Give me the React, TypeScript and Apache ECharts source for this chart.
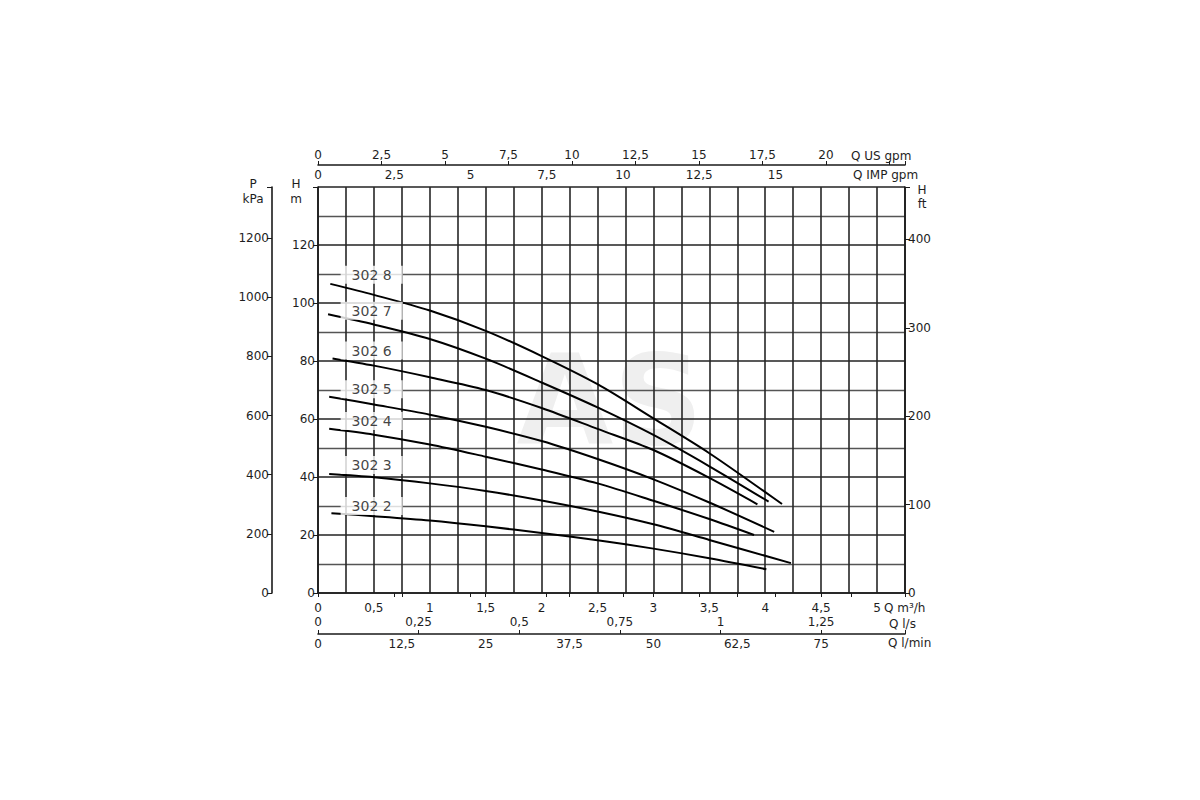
import React, { useEffect, useRef } from "react";
import * as echarts from "echarts";

// ---- data ----
const Q_MAX = 5.25; // m3/h
const H_MAX = 140; // m

const curveNames = ["302 2", "302 3", "302 4", "302 5", "302 6", "302 7", "302 8"];

const q302_2 = [0.12, 0.5, 1, 1.5, 2, 2.5, 3, 3.5, 4.01];
const h302_2 = [27.5, 26.5, 25.0, 23.0, 20.7, 18.2, 15.3, 12.0, 8.2];

const q302_3 = [0.1, 0.5, 1, 1.5, 2, 2.5, 3, 3.5, 4.23];
const h302_3 = [41.0, 39.9, 37.8, 35.2, 31.9, 28.1, 23.7, 18.3, 10.3];

const q302_4 = [0.1, 0.5, 1, 1.5, 2, 2.5, 3, 3.5, 3.9];
const h302_4 = [56.6, 54.6, 51.2, 47.0, 42.6, 37.8, 31.8, 25.5, 20.0];

const q302_5 = [0.1, 0.5, 1, 1.5, 2, 2.5, 3, 3.5, 4.08];
const h302_5 = [67.7, 65.0, 61.5, 57.3, 52.4, 46.2, 39.2, 31.2, 21.1];

const q302_6 = [0.13, 0.5, 1, 1.5, 2, 2.5, 3, 3.5, 3.93];
const h302_6 = [80.9, 78.4, 74.4, 70.0, 63.8, 56.6, 49.3, 39.7, 30.6];

const q302_7 = [0.09, 0.5, 1, 1.5, 2, 2.5, 3, 3.5, 4.03];
const h302_7 = [96.1, 92.6, 87.6, 80.8, 72.6, 64.0, 54.5, 43.7, 31.5];

const q302_8 = [0.11, 0.5, 1, 1.5, 2, 2.5, 3, 3.5, 4, 4.15];
const h302_8 = [106.6, 102.8, 97.4, 90.4, 81.7, 72.0, 60.2, 48.2, 34.8, 30.7];

const curveQ = [q302_2, q302_3, q302_4, q302_5, q302_6, q302_7, q302_8];
const curveH = [h302_2, h302_3, h302_4, h302_5, h302_6, h302_7, h302_8];

// curve label anchors (Q m3/h, H m)
const labelQ = 0.48;
const labelH = [30, 44.1, 59.3, 70.3, 83.6, 97.3, 109.7];

// unit conversions
const M3H_PER_LS = 3.6;
const M3H_PER_LMIN = 0.06;
const M3H_PER_USGPM = 0.227125;
const M3H_PER_IMPGPM = 0.272765;
const KPA_PER_M = 9.80665;
const FT_PER_M = 1 / 0.3048;

const FONT = "DejaVu Sans";
const TXT = "#1e1e1e";
const LINE = "#1a1a1a";

const fmt = (v: number) => String(Math.round(v * 1000) / 1000).replace(".", ",");
const stepLabel = (step: number, maxLabel: number) => (v: number) => {
  const r = v / step;
  if (Math.abs(r - Math.round(r)) > 1e-6) return "";
  if (v > maxLabel + 1e-9) return "";
  return fmt(v);
};

export default function App() {
  const ref = useRef<HTMLDivElement>(null);

  useEffect(() => {
    document.body.style.margin = "0";
    if (!ref.current) return;
    const chart = echarts.init(ref.current, undefined, { renderer: "svg" });

    const gridLeft = 318;
    const gridRight = 295;
    const gridTop = 187;
    const gridBottom = 207;

    const axisLabelStyle = { color: TXT, fontFamily: FONT, fontSize: 12 };

    const lineSeries = curveNames.map((name, i) => ({
      type: "line",
      name,
      xAxisIndex: 0,
      yAxisIndex: 0,
      data: curveQ[i].map((q, k) => [q, curveH[i][k]]),
      smooth: 0.3,
      showSymbol: false,
      lineStyle: { color: "#000", width: 2 },
      z: 5,
    }));

    const labelSeries = {
      type: "scatter",
      name: "labels",
      xAxisIndex: 0,
      yAxisIndex: 0,
      symbolSize: 0,
      data: curveNames.map((name, i) => ({ value: [labelQ, labelH[i]], name })),
      label: {
        show: true,
        position: "inside",
        formatter: (p: any) => p.name,
        color: "#111",
        fontFamily: FONT,
        fontSize: 14,
        backgroundColor: "#fff",
        padding: [2, 11, 2, 11],
      },
      z: 10,
    };

    chart.setOption({
      animation: false,
      backgroundColor: "#fff",
      textStyle: { fontFamily: FONT },
      grid: { left: gridLeft, right: gridRight, top: gridTop, bottom: gridBottom, containLabel: false },
      xAxis: [
        {
          type: "value",
          position: "bottom",
          min: 0,
          max: Q_MAX,
          interval: 0.25,
          axisLine: { show: true, onZero: false, lineStyle: { color: LINE, width: 1.6 } },
          axisTick: { show: false },
          axisLabel: { ...axisLabelStyle, margin: 9, formatter: stepLabel(0.5, 5) },
          splitLine: { show: true, lineStyle: { color: "#262626", width: 1.6 } },
        },
        {
          type: "value",
          position: "bottom",
          offset: 41,
          min: 0,
          max: Q_MAX / M3H_PER_LS,
          interval: 0.25,
          axisLine: { show: true, onZero: false, lineStyle: { color: LINE, width: 1.6 } },
          axisTick: { show: true, inside: true, length: 4, lineStyle: { color: LINE } },
          axisLabel: { ...axisLabelStyle, inside: true, margin: 6, formatter: stepLabel(0.25, 1.25) },
          splitLine: { show: false },
        },
        {
          type: "value",
          position: "bottom",
          offset: 41,
          min: 0,
          max: Q_MAX / M3H_PER_LMIN,
          interval: 12.5,
          axisLine: { show: false },
          axisTick: { show: true, inside: false, length: 4, lineStyle: { color: LINE } },
          axisLabel: { ...axisLabelStyle, margin: 4, formatter: stepLabel(12.5, 75) },
          splitLine: { show: false },
        },
        {
          type: "value",
          position: "top",
          offset: 22,
          min: 0,
          max: Q_MAX / M3H_PER_USGPM,
          interval: 2.5,
          axisLine: { show: true, onZero: false, lineStyle: { color: LINE, width: 1.6 } },
          axisTick: { show: true, inside: false, length: 4, lineStyle: { color: LINE } },
          axisLabel: { ...axisLabelStyle, margin: 4, formatter: stepLabel(2.5, 20) },
          splitLine: { show: false },
        },
        {
          type: "value",
          position: "top",
          offset: 22,
          min: 0,
          max: Q_MAX / M3H_PER_IMPGPM,
          interval: 2.5,
          axisLine: { show: false },
          axisTick: { show: true, inside: true, length: 4, lineStyle: { color: LINE } },
          axisLabel: { ...axisLabelStyle, inside: true, margin: 4, formatter: stepLabel(2.5, 15) },
          splitLine: { show: false },
        },
      ],
      yAxis: [
        {
          type: "value",
          position: "left",
          min: 0,
          max: H_MAX,
          interval: 20,
          axisLine: { show: true, onZero: false, lineStyle: { color: LINE, width: 1.6 } },
          axisTick: { show: true, inside: false, length: 5, lineStyle: { color: LINE } },
          axisLabel: { ...axisLabelStyle, margin: 3, formatter: stepLabel(20, 120) },
          splitLine: { show: true, lineStyle: { color: "#222", width: 1.6 } },
          minorTick: { show: false, splitNumber: 2 },
          minorSplitLine: { show: true, lineStyle: { color: "#555", width: 1.4 } },
        },
        {
          type: "value",
          position: "left",
          offset: 46,
          min: 0,
          max: H_MAX * KPA_PER_M,
          interval: 200,
          axisLine: { show: true, onZero: false, lineStyle: { color: LINE, width: 1.6 } },
          axisTick: { show: true, inside: false, length: 5, lineStyle: { color: LINE } },
          axisLabel: { ...axisLabelStyle, margin: 3, formatter: stepLabel(200, 1200) },
          splitLine: { show: false },
        },
        {
          type: "value",
          position: "right",
          offset: 0,
          min: 0,
          max: H_MAX * FT_PER_M,
          interval: 100,
          axisLine: { show: true, onZero: false, lineStyle: { color: LINE, width: 1.6 } },
          axisTick: { show: true, inside: false, length: 5, lineStyle: { color: LINE } },
          axisLabel: { ...axisLabelStyle, margin: 3, formatter: stepLabel(100, 400) },
          splitLine: { show: false },
        },
      ],
      graphic: [
        {
          type: "text",
          z: -10,
          x: 610,
          y: 400,
          style: {
            text: "AS",
            fill: "#efefef",
            font: "bold 125px 'DejaVu Sans'",
            align: "center",
            verticalAlign: "middle",
          },
        },
        ...[
          ["P", 253, 184, "center"],
          ["kPa", 253, 199, "center"],
          ["H", 296, 184, "center"],
          ["m", 296, 199, "center"],
          ["H", 922, 190, "center"],
          ["ft", 922, 204, "center"],
          ["Q US gpm", 851, 156, "left"],
          ["Q IMP gpm", 853, 175, "left"],
          ["Q m³/h", 884, 608, "left"],
          ["Q l/s", 889, 624, "left"],
          ["Q l/min", 888, 643, "left"],
        ].map(([t, x, y, a]) => ({
          type: "text",
          x: x as number,
          y: y as number,
          style: {
            text: t as string,
            fill: TXT,
            font: `12px '${FONT}'`,
            align: a as string,
            verticalAlign: "middle",
          },
        })),
      ],
      series: [...lineSeries, labelSeries],
    });

    return () => chart.dispose();
  }, []);

  return <div ref={ref} style={{ width: 1200, height: 800 }} />;
}
